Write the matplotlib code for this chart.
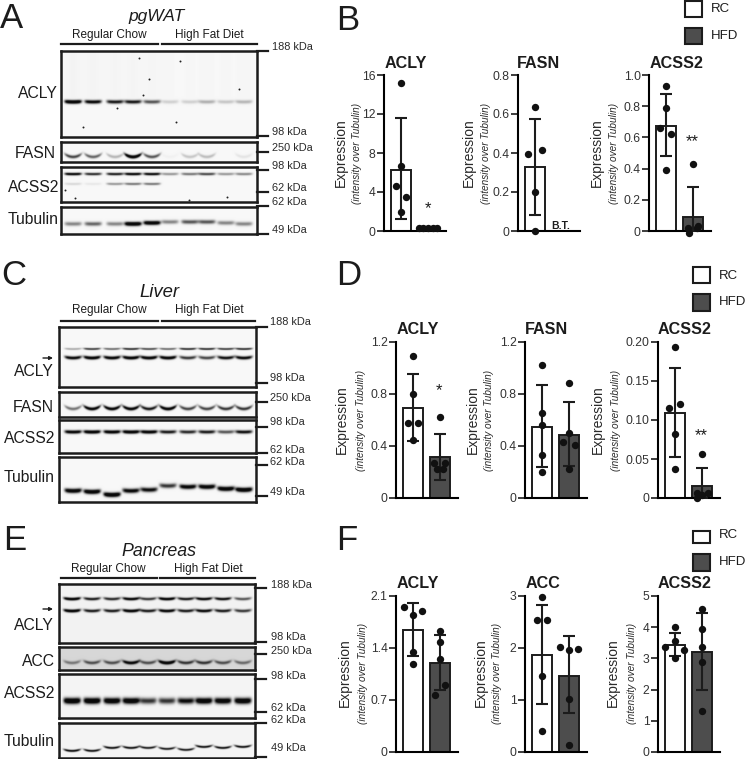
import numpy as np
import matplotlib
matplotlib.use('Agg')
import matplotlib.pyplot as plt
from matplotlib.patches import Rectangle, FancyArrowPatch

plt.rcParams['font.family'] = ['Liberation Sans', 'DejaVu Sans']

W, H = 745, 759
INK = '#1c1c1c'
GREY = '#4d4d4d'

# bar charts: top value, tick labels, then mean / (low, high) / points for RC and HFD
b1_ticks = ['0', '4', '8', '12', '16']
b1_rc = [15.15, 6.7, 4.6, 3.5, 1.95]
b1_rc_x = [0, 0, -0.2, 0.2, 0]
b1_hfd = [0.3, 0.3, 0.3, 0.3, 0.3]
b1_hfd_x = [-0.35, -0.17, 0, 0.17, 0.33]
b1_bars = [6.3, 0.3]
b1_err = [(1.2, 11.55), None]

b2_ticks = ['0', '0.2', '0.4', '0.6', '0.8']
b2_rc = [0.638, 0.393, 0.414, 0.2, 0.0]
b2_rc_x = [0, -0.26, 0.26, 0, 0]
b2_bars = [0.327, None]
b2_err = [(0.08, 0.573), None]

b3_ticks = ['0', '0.2', '0.4', '0.6', '0.8', '1.0']
b3_rc = [0.93, 0.786, 0.658, 0.622, 0.393]
b3_rc_x = [0, 0, -0.21, 0.2, 0]
b3_hfd = [0.427, 0.02, -0.01, 0.02, 0.03]
b3_hfd_x = [0, -0.2, -0.14, 0.14, 0.2]
b3_bars = [0.675, 0.092]
b3_err = [(0.479, 0.878), (0, 0.28)]

d1_ticks = ['0', '0.4', '0.8', '1.2']
d1_rc = [1.09, 0.797, 0.577, 0.577, 0.444]
d1_rc_x = [0, 0, -0.2, 0.2, 0]
d1_hfd = [0.623, 0.27, 0.27, 0.22, 0.22]
d1_hfd_x = [0, -0.21, 0.2, -0.11, 0.11]
d1_bars = [0.692, 0.314]
d1_err = [(0.437, 0.952), (0.14, 0.493)]

d2_ticks = ['0', '0.4', '0.8', '1.2']
d2_rc = [1.02, 0.651, 0.562, 0.33, 0.197]
d2_rc_x = [0, 0, 0, 0, 0]
d2_hfd = [0.884, 0.503, 0.427, 0.408, 0.225]
d2_hfd_x = [0, 0, -0.21, 0.21, 0]
d2_bars = [0.546, 0.485]
d2_err = [(0.237, 0.873), (0.243, 0.735)]

d3_ticks = ['0', '0.05', '0.10', '0.15', '0.20']
d3_rc = [0.193, 0.115, 0.12, 0.0826, 0.0366]
d3_rc_x = [0, -0.21, 0.19, 0, 0]
d3_hfd = [0.056, 0.0064, 0.0064, 0.0, 0.004]
d3_hfd_x = [0, -0.19, 0.21, -0.19, 0]
d3_bars = [0.1085, 0.015]
d3_err = [(0.0528, 0.167), (0, 0.0387)]

f1_ticks = ['0', '0.7', '1.4', '2.1']
f1_rc = [1.956, 1.898, 1.84, 1.346, 1.18]
f1_rc_x = [-0.35, 0.35, 0, 0, 0]
f1_hfd = [1.629, 1.48, 1.256, 0.902, 0.772]
f1_hfd_x = [0, 0, 0, 0.2, -0.2]
f1_bars = [1.646, 1.202]
f1_err = [(1.292, 2.005), (0.839, 1.579)]

f2_ticks = ['0', '1', '2', '3']
f2_rc = [2.987, 2.545, 2.545, 1.46, 0.404]
f2_rc_x = [0, -0.2, 0.2, 0, 0]
f2_hfd = [2.026, 1.98, 1.96, 1.02, 0.128]
f2_hfd_x = [-0.35, 0.35, 0, 0, 0]
f2_bars = [1.872, 1.468]
f2_err = [(0.929, 2.833), (0.744, 2.224)]

f3_ticks = ['0', '1', '2', '3', '4', '5']
f3_rc = [4.006, 3.547, 3.376, 3.27, 3.02]
f3_rc_x = [0, 0, -0.36, 0.35, 0]
f3_hfd = [4.594, 3.953, 3.355, 2.874, 1.325]
f3_hfd_x = [0, 0, 0, 0, 0]
f3_bars = [3.43, 3.205]
f3_err = [(3.077, 3.814), (1.976, 4.455)]

# band strength per lane on each blot
a_acly = [1.0, .8, .7, .7, .5, .12, .12, .22, .15, .2]
a_fasn = [.55, .45, .2, 1.0, .5, .02, .15, .18, 0, .06]
a_acss2_top = [.85, .65, .7, .85, .8, .3, .4, .55, .3, .35]
a_acss2_low = [.1, .05, .3, .4, .4, 0, 0, 0, 0, 0]
a_tub = [.35, .45, .35, 1.0, .95, .35, .5, .5, .35, .35]
c_acly_top = [.25, .6, .45, .65, .55, .45, .65, .65, .6, .65]
c_acly_low = [.8, .9, .85, .9, .9, .9, .6, .55, .75, .8]
c_fasn = [.4, .85, .85, .85, .7, .9, .55, .55, .6, .6]
c_acss2 = [.85, .95, .9, .95, .9, .7, .65, .7, .5, .75]
c_tub = [.9, .95, 1, .8, .75, .6, .85, .9, .95, 1]
e_acly_top = [.95, .7, .65, .85, .6, .9, .7, .8, .75, .5]
e_acly_low = [.95, .7, .7, .9, .7, .85, .7, .8, .7, .6]
e_acc = [.35, .5, .5, .85, .5, 1, .6, .6, .5, .4]
e_acss2 = [1, 1, .95, .95, .6, .6, .75, .95, .9, .95]
e_tub = [.8, .75, .75, .75, .7, .7, .7, .75, .75, .75]

# dust spots seen on the pgWAT blots
a_acly_specks_x = [139, 149, 239, 180, 176, 83, 117, 143]
a_acly_specks_y = [58, 79, 89, 61, 122, 127, 108, 95]
a_acss2_specks_x = [65, 189, 227, 75]
a_acss2_specks_y = [190, 200, 197, 198]

kda_a = [('188 kDa', 51, 47), ('98 kDa', 136, 132), ('250 kDa', 152, 148), ('98 kDa', 170, 166),
         ('62 kDa', 192, 188), ('62 kDa', 206, 202), ('49 kDa', 234, 230)]
kda_c = [('188 kDa', 327, 322), ('98 kDa', 383, 378), ('250 kDa', 402, 398), ('98 kDa', 427, 422),
         ('62 kDa', 453, 450), ('62 kDa', 465, 462), ('49 kDa', 496, 492)]
kda_e = [('188 kDa', 588, 585), ('98 kDa', 642, 637), ('250 kDa', 654, 651), ('98 kDa', 679, 676),
         ('62 kDa', 712, 708), ('62 kDa', 723, 720), ('49 kDa', 757, 748)]

fig = plt.figure(figsize=(W / 100, H / 100), dpi=100)


def txt(x, y, s, size, **kw):
    kw.setdefault('ha', 'center')
    kw.setdefault('va', 'center')
    kw.setdefault('color', INK)
    fig.text(x / W, 1 - y / H, s, fontsize=size, **kw)


def box_ax(x0, y0, x1, y1):
    return fig.add_axes([x0 / W, 1 - y1 / H, (x1 - x0) / W, (y1 - y0) / H])


def hline(x0, x1, y, lw=1.6):
    fig.add_artist(plt.Line2D([x0 / W, x1 / W], [1 - y / H, 1 - y / H], color=INK, lw=lw))


def blot(x0, y0, x1, y1, lanes, bands, bg=0.97, smear=0.0, sx=None, sy=None):
    # bands: (y px, sigma px, strengths, smile px)
    sc = 3
    xs = np.linspace(x0, x1, (x1 - x0) * sc)
    ys = np.linspace(y0, y1, (y1 - y0) * sc)
    xx, yy = np.meshgrid(xs, ys)
    dark = np.zeros(xx.shape)
    for by, sig, strength, smile in bands:
        by = np.broadcast_to(by, (10,))
        for lx, ly, s in zip(lanes, by, strength):
            u = (xx - lx) / 8.5
            across = np.exp(-u ** 6)
            dark += s * across * np.exp(-((yy - ly + smile * u ** 2) / sig) ** 2)
            if smear:
                dark += smear * s * np.exp(-(u * 1.2) ** 2) * (yy < ly)
    img = bg - np.clip(dark * 1.4, 0, 1) * (bg - 0.04)
    ax = box_ax(x0, y0, x1, y1)
    ax.imshow(img, cmap='gray', vmin=0, vmax=1, extent=[x0, x1, y1, y0], aspect='auto', interpolation='bilinear')
    if sx is not None:
        ax.scatter(sx, sy, s=2, color='#222222', linewidths=0)
        ax.set_xlim(x0, x1)
        ax.set_ylim(y1, y0)
    ax.set_xticks([])
    ax.set_yticks([])
    for sp in ax.spines.values():
        sp.set_linewidth(1.8)
        sp.set_color(INK)


def kda(items, x0, x1, xt):
    for s, ytick, ytext in items:
        hline(x0, x1, ytick)
        txt(xt, ytext, s, 7.9, ha='left', color='#2a2a2a')


def bars(sx, top, bottom, ticks, vmax, bar_vals, errs, rc, rc_x, hfd=None, hfd_x=None):
    # 27 px between the two bar centres, first one 17 px right of the axis line
    right = sx + 62
    ax = box_ax(sx, top, right, bottom)
    ax.set_xlim(-17 / 27, 45 / 27)
    ax.set_ylim(0, vmax)
    ax.patch.set_alpha(0)
    for i, v in enumerate(bar_vals):
        if v is None:
            continue
        ax.bar(i, v, width=0.74, facecolor=['white', GREY][i], edgecolor=INK, lw=1.4, zorder=2)
    for i, e in enumerate(errs):
        if e is None:
            continue
        ax.errorbar([i], [bar_vals[i]], yerr=[[bar_vals[i] - e[0]], [e[1] - bar_vals[i]]],
                    color=INK, lw=1.5, capsize=4, capthick=1.5, zorder=3)
    ax.scatter(rc_x, rc, s=28, color='#111111', zorder=4, clip_on=False, linewidths=0)
    if hfd is not None:
        ax.scatter(np.array(hfd_x) + 1, hfd, s=28, color='#111111', zorder=4, clip_on=False, linewidths=0)
    ax.set_xticks([])
    ax.set_yticks(np.linspace(0, vmax, len(ticks)))
    ax.set_yticklabels(ticks, fontsize=8.7, color='#333333')
    ax.tick_params(axis='y', length=5, width=1.2, pad=1, color=INK)
    ax.spines['top'].set_visible(False)
    ax.spines['right'].set_visible(False)
    ax.spines['left'].set_linewidth(1.5)
    ax.spines['bottom'].set_linewidth(1.5)
    return ax


def ylab(x1, x2, y):
    txt(x1, y, 'Expression', 10, rotation=90, color='#2a2a2a')
    txt(x2, y, '(intensity over Tubulin)', 7.2, rotation=90, style='italic', color='#2a2a2a')


def legend(x0, y1, y2, y3, y4, yt1, yt2):
    for (a, b, c) in [(y1, y2, 'white'), (y3, y4, GREY)]:
        fig.add_artist(Rectangle((x0 / W, 1 - b / H), 17 / W, (b - a) / H, transform=fig.transFigure,
                                 facecolor=c, edgecolor=INK, lw=1.5))
    txt(x0 + 26, yt1, 'RC', 9.5, ha='left')
    txt(x0 + 26, yt2, 'HFD', 9.5, ha='left')


def arrow(x0, x1, y):
    fig.add_artist(FancyArrowPatch((x0 / W, 1 - y / H), (x1 / W, 1 - y / H),
                   transform=fig.transFigure, arrowstyle='-|>', mutation_scale=5, lw=1, color=INK,
                   shrinkA=0, shrinkB=0))


# panel letters
for s, x, y in [('A', 0, 19), ('B', 336, 20), ('C', 1, 275), ('D', 336, 275), ('E', 3, 540), ('F', 336, 540)]:
    txt(x, y, s, 25, ha='left')

# A: pgWAT blots
lanes_a = [73, 93, 115, 133, 152, 170, 190, 207, 226, 244]
txt(157, 17, 'pgWAT', 12.5, style='italic')
txt(109, 35, 'Regular Chow', 8.5)
txt(209, 35, 'High Fat Diet', 8.5)
hline(61, 158, 44)
hline(162, 257, 44)
blot(61, 51, 257, 137, lanes_a, [(102, 1.8, a_acly, 0.5)], smear=0.012, sx=a_acly_specks_x, sy=a_acly_specks_y)
blot(61, 142, 257, 162, lanes_a, [(157, 1.6, a_fasn, 3)])
blot(61, 167, 257, 202, lanes_a, [(174, 1.3, a_acss2_top, 0.3), (184, 1.2, a_acss2_low, 0.3)],
     sx=a_acss2_specks_x, sy=a_acss2_specks_y)
blot(61, 207, 257, 234, lanes_a,
     [([224, 224, 224, 224, 223, 222, 222, 222, 223, 224], 2, a_tub, 0.3)])
kda(kda_a, 257, 268, 272)
txt(58, 94, 'ACLY', 11.3, ha='right')
txt(56, 154, 'FASN', 11.3, ha='right')
txt(59, 187, 'ACSS2', 11.3, ha='right')
txt(59, 220, 'Tubulin', 11.3, ha='right')

# C: liver blots
lanes_c = [73, 92, 112, 131, 149, 168, 188, 207, 226, 244]
txt(159, 292, 'Liver', 13.3, style='italic')
txt(109, 310, 'Regular Chow', 8.5)
txt(209, 310, 'High Fat Diet', 8.5)
hline(61, 158, 321)
hline(162, 255, 321)
blot(59, 327, 256, 387, lanes_c, [(349, 1.0, c_acly_top, 0.5), (358, 1.6, c_acly_low, 1.2)])
blot(59, 392, 256, 417, lanes_c, [(409, 1.6, c_fasn, 3)])
blot(59, 420, 256, 453, lanes_c, [(432, 1.7, c_acss2, 0.5)])
blot(59, 457, 256, 502, lanes_c,
     [([491, 492, 495, 491, 490, 486, 487, 487, 489, 490], 2.2, c_tub, 0.8)])
kda(kda_c, 256, 267, 270)
txt(54, 371, 'ACLY', 11.3, ha='right')
txt(54, 407, 'FASN', 11.3, ha='right')
txt(55, 439, 'ACSS2', 11.3, ha='right')
txt(55, 478, 'Tubulin', 11.3, ha='right')
arrow(43, 53, 358)

# E: pancreas blots
lanes_e = [72, 92, 112, 131, 148, 167, 186, 204, 223, 243]
txt(159, 552, 'Pancreas', 12.8, style='italic')
txt(108, 569, 'Regular Chow', 8.5)
txt(208, 569, 'High Fat Diet', 8.5)
hline(61, 157, 578)
hline(160, 255, 578)
blot(59, 584, 255, 643, lanes_e, [(599, 1.4, e_acly_top, 1), (611, 1.5, e_acly_low, 1)], bg=0.95)
blot(59, 647, 255, 670, lanes_e, [(663, 1.6, e_acc, 2)], bg=0.84)
blot(59, 674, 255, 718, lanes_e, [(701, 3, e_acss2, 0.5)], bg=0.96)
blot(59, 723, 255, 758, lanes_e,
     [([751, 751, 748, 748, 748, 749, 750, 747, 748, 747], 1.1, e_tub, 1.5)], bg=0.96)
kda(kda_e, 255, 266, 271)
txt(54, 625, 'ACLY', 11.3, ha='right')
txt(55, 662, 'ACC', 11.3, ha='right')
txt(55, 693, 'ACSS2', 11.3, ha='right')
txt(55, 741, 'Tubulin', 11.3, ha='right')
arrow(43, 53, 609)

# B
bars(384, 75, 231, b1_ticks, 16, b1_bars, b1_err, b1_rc, b1_rc_x, b1_hfd, b1_hfd_x)
bars(518, 75, 231, b2_ticks, 0.8, b2_bars, b2_err, b2_rc, b2_rc_x)
bars(649, 75, 231, b3_ticks, 1.0, b3_bars, b3_err, b3_rc, b3_rc_x, b3_hfd, b3_hfd_x)
txt(406, 63, 'ACLY', 11.6, weight='bold')
txt(539, 63, 'FASN', 11.6, weight='bold')
txt(677, 63, 'ACSS2', 11.6, weight='bold')
ylab(341, 357, 153)
ylab(469, 486, 153)
ylab(597, 614, 153)
txt(561, 226, 'B.T.', 7.5, weight='bold')
txt(428, 209, '*', 12)
txt(692, 142, '**', 12)
legend(685, 1, 17, 28, 44, 9, 36)

# D
d_top, d_bot = 342, 498
bars(396, d_top, d_bot, d1_ticks, 1.2, d1_bars, d1_err, d1_rc, d1_rc_x, d1_hfd, d1_hfd_x)
bars(525, d_top, d_bot, d2_ticks, 1.2, d2_bars, d2_err, d2_rc, d2_rc_x, d2_hfd, d2_hfd_x)
bars(658, d_top, d_bot, d3_ticks, 0.20, d3_bars, d3_err, d3_rc, d3_rc_x, d3_hfd, d3_hfd_x)
txt(418, 330, 'ACLY', 11.6, weight='bold')
txt(547, 330, 'FASN', 11.6, weight='bold')
txt(685, 330, 'ACSS2', 11.6, weight='bold')
ylab(342, 361, 420)
ylab(473, 489, 420)
ylab(598, 616, 420)
txt(439, 391, '*', 12)
txt(701, 436, '**', 12)
legend(693, 267, 283, 294, 311, 276, 302)

# F
f_top, f_bot = 596, 752
bars(396, f_top, f_bot, f1_ticks, 2.1, f1_bars, f1_err, f1_rc, f1_rc_x, f1_hfd, f1_hfd_x)
bars(525, f_top, f_bot, f2_ticks, 3, f2_bars, f2_err, f2_rc, f2_rc_x, f2_hfd, f2_hfd_x)
bars(658, f_top, f_bot, f3_ticks, 5, f3_bars, f3_err, f3_rc, f3_rc_x, f3_hfd, f3_hfd_x)
txt(418, 584, 'ACLY', 11.6, weight='bold')
txt(543, 584, 'ACC', 11.6, weight='bold')
txt(685, 584, 'ACSS2', 11.6, weight='bold')
ylab(345, 363, 673)
ylab(481, 497, 673)
ylab(613, 632, 673)
legend(693, 531, 543, 554, 571, 535, 562)

fig.savefig('out.png', dpi=100)
